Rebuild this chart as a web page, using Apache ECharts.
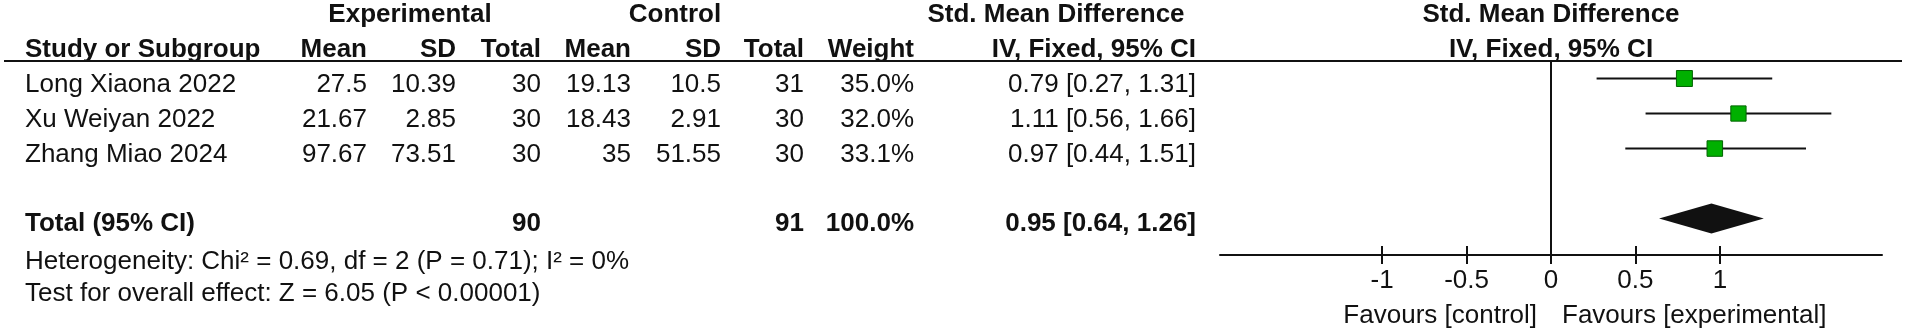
<!DOCTYPE html>
<html>
<head>
<meta charset="utf-8">
<title>Forest plot</title>
<script src="https://cdn.jsdelivr.net/npm/echarts@6/dist/echarts.min.js"></script>
<style>
  html, body { margin: 0; padding: 0; background: #fff; }
  #chart { width: 1908px; height: 330px; }
</style>
</head>
<body>
<div id="chart"></div>
<script>
// study rows
var studies = ['Long Xiaona 2022', 'Xu Weiyan 2022', 'Zhang Miao 2024']
var expMean = [27.5, 21.67, 97.67]
var expSD = [10.39, 2.85, 73.51]
var expN = [30, 30, 30]
var ctlMean = [19.13, 18.43, 35]
var ctlSD = [10.5, 2.91, 51.55]
var ctlN = [31, 30, 30]
var weights = [35.0, 32.0, 33.1]
var smd = [0.79, 1.11, 0.97]
var ciLow = [0.27, 0.56, 0.44]
var ciHigh = [1.31, 1.66, 1.51]

// pooled result
var expTotal = 90
var ctlTotal = 91
var pooled = [0.64, 0.95, 1.26] // low, estimate, high
var heterogeneity = 'Heterogeneity: Chi² = 0.69, df = 2 (P = 0.71); I² = 0%'
var overallEffect = 'Test for overall effect: Z = 6.05 (P < 0.00001)'

var tickValues = [-1, -0.5, 0, 0.5, 1]
var favours = ['Favours [control]', 'Favours [experimental]']

var totalRow = 4 // row index of the diamond (one empty row above it)
var font = 'Liberation Sans, Arial, sans-serif'
var ink = '#111'

var chart = echarts.init(document.getElementById('chart'))

var tickStyle = { color: ink, width: 2 }

chart.setOption({
  animation: false,
  grid: { left: 1220, width: 662, top: 61, height: 194 },
  xAxis: [{
    type: 'value',
    position: 'bottom',
    min: -1.96,
    max: 1.96,
    splitLine: { show: false },
    axisLine: { onZero: false, lineStyle: { color: ink, width: 2 } },
    axisTick: { customValues: tickValues, length: 9, lineStyle: tickStyle },
    axisLabel: {
      customValues: tickValues,
      margin: 13,
      fontSize: 26,
      fontFamily: font,
      color: ink,
      formatter: function(v) { return String(v) }
    }
  }, {
    // second axis only to draw the upper half of the ticks
    type: 'value',
    position: 'bottom',
    offset: 0,
    min: -1.96,
    max: 1.96,
    splitLine: { show: false },
    axisLine: { show: false, onZero: false },
    axisLabel: { show: false },
    axisTick: { show: true, customValues: tickValues, inside: true, length: 9, lineStyle: tickStyle }
  }],
  yAxis: {
    type: 'value',
    inverse: true,
    min: 0,
    max: 5.54,
    show: false
  },
  series: [{
    // confidence intervals
    type: 'custom',
    renderItem: function(params, api) {
      var a = api.coord([api.value(0), api.value(2)])
      var b = api.coord([api.value(1), api.value(2)])
      return {
        type: 'line',
        shape: { x1: a[0], y1: a[1], x2: b[0], y2: b[1] },
        style: { stroke: ink, lineWidth: 2 }
      }
    },
    encode: { x: [0, 1], y: 2 },
    data: studies.map(function(s, i) { return [ciLow[i], ciHigh[i], i + 0.5] }),
    markLine: {
      silent: true,
      symbol: 'none',
      label: { show: false },
      lineStyle: { color: ink, width: 2, type: 'solid' },
      data: [{ xAxis: 0 }]
    }
  }, {
    // study estimates, square sized by weight
    type: 'scatter',
    symbol: 'rect',
    symbolSize: function(v) { var s = 2.7 * Math.sqrt(v[2]); return [s, s] },
    itemStyle: { color: '#00b000', borderColor: '#006400', borderWidth: 1, opacity: 1 },
    z: 3,
    data: studies.map(function(s, i) { return [smd[i], i + 0.5, weights[i]] })
  }, {
    // pooled diamond
    type: 'custom',
    renderItem: function(params, api) {
      var y = api.value(3)
      var l = api.coord([api.value(0), y])
      var m = api.coord([api.value(1), y])
      var r = api.coord([api.value(2), y])
      var h = 15
      return {
        type: 'polygon',
        shape: { points: [[l[0], l[1]], [m[0], m[1] - h], [r[0], r[1]], [m[0], m[1] + h]] },
        style: { fill: ink }
      }
    },
    encode: { x: [0, 1, 2], y: 3 },
    data: [[pooled[0], pooled[1], pooled[2], totalRow + 0.5]]
  }]
})

// table text, placed on the rows of the plot's y axis
function rowY(i) { return chart.convertToPixel({ yAxisIndex: 0 }, i + 0.5) }
function px(v) { return chart.convertToPixel({ xAxisIndex: 0 }, v) }

var els = []
function txt(str, x, y, align, bold) {
  els.push({
    type: 'text',
    x: x,
    y: y,
    silent: true,
    style: {
      text: str,
      fill: ink,
      fontSize: 26,
      fontFamily: font,
      fontWeight: bold ? 'bold' : 'normal',
      align: align,
      verticalAlign: 'middle'
    }
  })
}

var lineY = chart.convertToPixel({ yAxisIndex: 0 }, 0)
var cols = [367, 456, 541, 631, 721, 804, 914, 1196] // right edges

// headers
txt('Experimental', 410, lineY - 46, 'center', true)
txt('Control', 675, lineY - 46, 'center', true)
txt('Std. Mean Difference', 1056, lineY - 46, 'center', true)
txt('Std. Mean Difference', px(0), lineY - 46, 'center', true)
txt('Study or Subgroup', 25, lineY - 11, 'left', true)
var heads = ['Mean', 'SD', 'Total', 'Mean', 'SD', 'Total', 'Weight', 'IV, Fixed, 95% CI']
heads.forEach(function(h, k) { txt(h, cols[k], lineY - 11, 'right', true) })
txt('IV, Fixed, 95% CI', px(0), lineY - 11, 'center', true)

els.push({
  type: 'line',
  silent: true,
  shape: { x1: 4, y1: lineY, x2: 1902, y2: lineY },
  style: { stroke: ink, lineWidth: 2 }
})

// study rows
studies.forEach(function(s, i) {
  var y = rowY(i) + 6
  var cells = [expMean[i], expSD[i], expN[i], ctlMean[i], ctlSD[i], ctlN[i],
    weights[i].toFixed(1) + '%',
    smd[i].toFixed(2) + ' [' + ciLow[i].toFixed(2) + ', ' + ciHigh[i].toFixed(2) + ']']
  txt(s, 25, y, 'left', false)
  cells.forEach(function(c, k) { txt(String(c), cols[k], y, 'right', false) })
})

// total row
var ty = rowY(totalRow) + 5
txt('Total (95% CI)', 25, ty, 'left', true)
txt(String(expTotal), cols[2], ty, 'right', true)
txt(String(ctlTotal), cols[5], ty, 'right', true)
txt('100.0%', cols[6], ty, 'right', true)
txt(pooled[1].toFixed(2) + ' [' + pooled[0].toFixed(2) + ', ' + pooled[2].toFixed(2) + ']', cols[7], ty, 'right', true)
txt(heterogeneity, 25, 262, 'left', false)
txt(overallEffect, 25, 294, 'left', false)

// favours labels under the axis
txt(favours[0], px(0) - 14, 316, 'right', false)
txt(favours[1], px(0) + 11, 316, 'left', false)

chart.setOption({ graphic: els })
</script>
</body>
</html>
